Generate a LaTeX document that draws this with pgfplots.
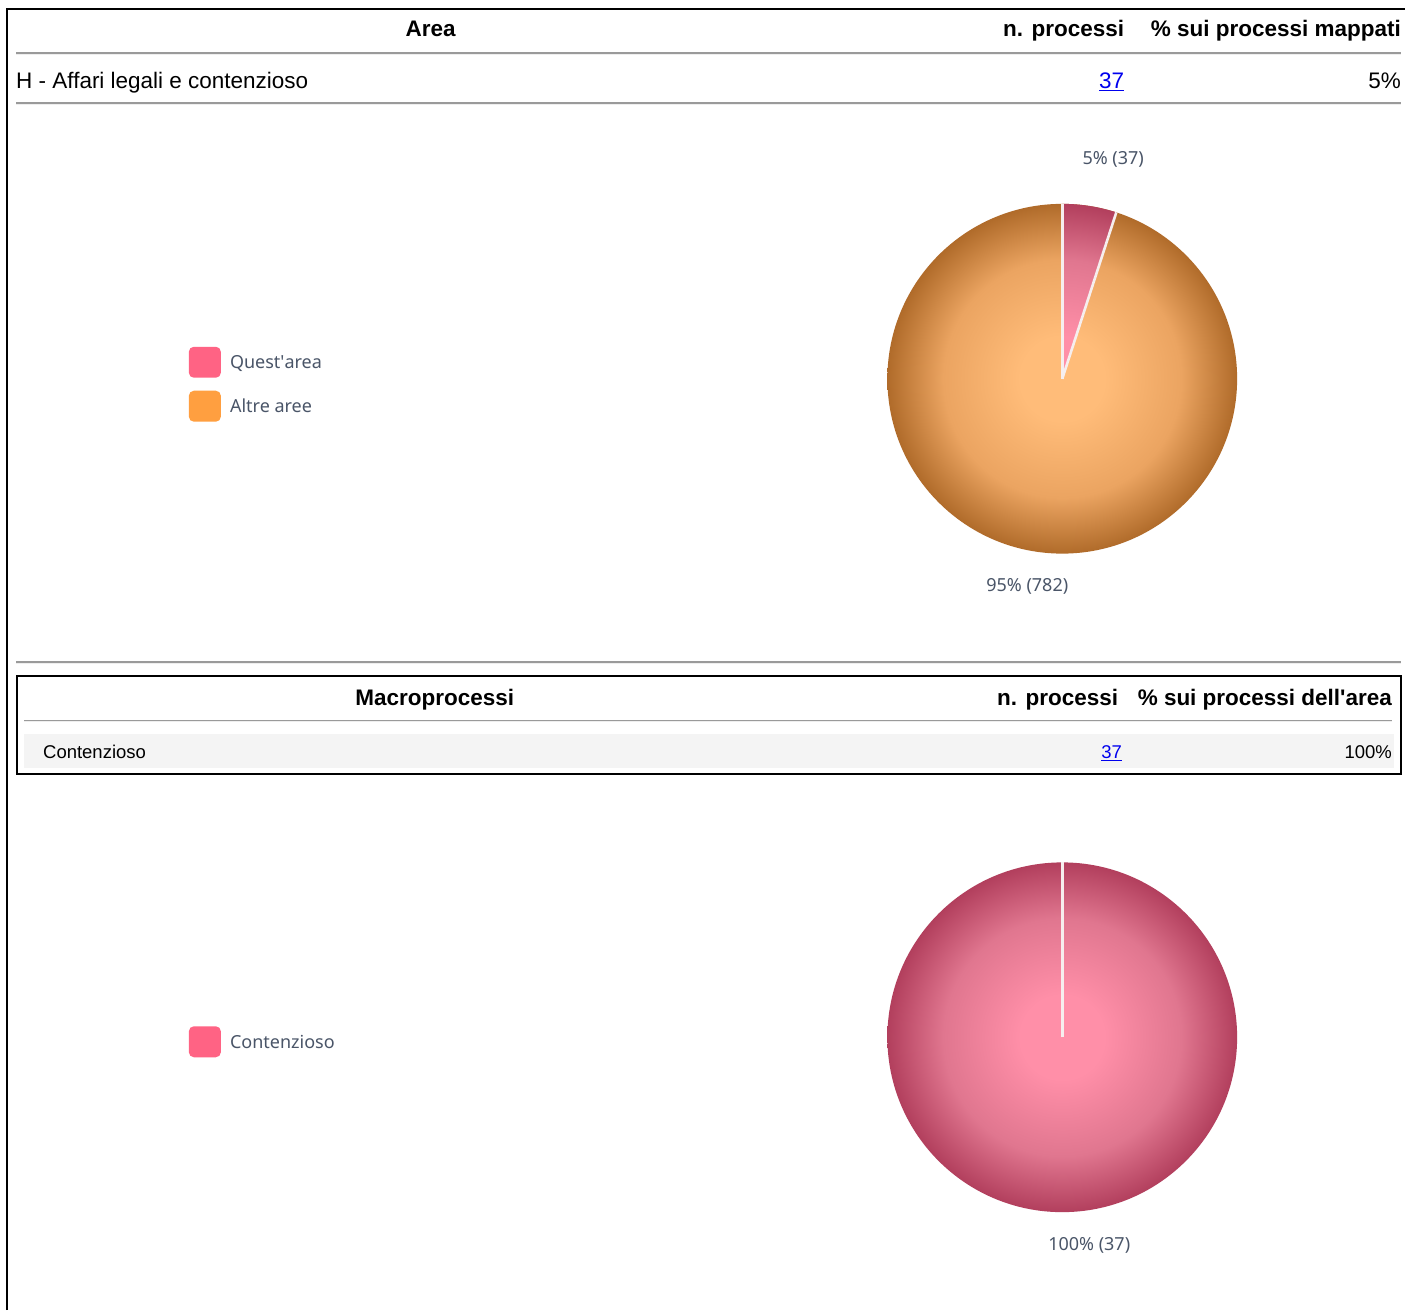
\documentclass[border=0pt]{standalone}
\usepackage{pgfplots}
\pgfplotsset{compat=1.18}
\usepackage{pgfplotstable}
\usepackage{fontspec}
\setmainfont{Liberation Sans}
\newfontfamily\chartfont{Noto Sans}

\definecolor{pinkL}{HTML}{FF6384}
\definecolor{orangeL}{HTML}{FF9F40}
\definecolor{chartgray}{HTML}{4A5568}
\definecolor{hrgray}{HTML}{9A9A9A}
\definecolor{hrlight}{HTML}{EEEEEE}
\definecolor{rowbg}{HTML}{F4F4F4}
\definecolor{linkblue}{HTML}{0000EE}
\definecolor{sep}{HTML}{F6EEEE}
\definecolor{oc}{HTML}{FFBC79}
\definecolor{om}{HTML}{EBA461}
\definecolor{oe}{HTML}{B06B2A}
\definecolor{pc}{HTML}{FF8FA8}
\definecolor{pm}{HTML}{E0768F}
\definecolor{pe}{HTML}{B23F5D}
\pgfdeclareradialshading{orangeradial}{\pgfpoint{0bp}{0bp}}{color(0bp)=(oc); color(6bp)=(oc); color(17bp)=(om); color(25bp)=(oe); color(50bp)=(oe)}
\pgfdeclareradialshading{pinkradial}{\pgfpoint{0bp}{0bp}}{color(0bp)=(pc); color(6bp)=(pc); color(17bp)=(pm); color(25bp)=(pe); color(50bp)=(pe)}

\pgfplotstableread{
slice value
Questarea 37
Altreaure 782
}\areatab
\pgfplotstableread{
slice value
Contenzioso 37
}\macrotab

\newcommand{\hdr}{\fontsize{22.5}{27}\selectfont\bfseries}
\newcommand{\rowA}{\fontsize{22.5}{27}\selectfont}
\newcommand{\rowB}{\fontsize{18.5}{22}\selectfont}
\newcommand{\chl}{\chartfont\fontsize{18}{21}\selectfont\color{chartgray}}

\begin{document}
\begin{tikzpicture}
\pgfplotstablegetelem{0}{value}\of\areatab \edef\vA{\pgfplotsretval}%
\pgfplotstablegetelem{1}{value}\of\areatab \edef\vB{\pgfplotsretval}%
\pgfplotstablegetelem{0}{value}\of\macrotab \edef\vC{\pgfplotsretval}%
\pgfmathsetmacro\fracA{\vA/(\vA+\vB)}%
\pgfmathtruncatemacro\pctA{round(100*\fracA)}%
\pgfmathtruncatemacro\pctB{round(100*(1-\fracA))}%
\pgfmathsetmacro\angA{3.6*\pctA}%
\begin{axis}[
  x=1pt, y=1pt, xmin=0, xmax=1406, ymin=0, ymax=1311,
  y dir=reverse, hide axis, clip=false, enlargelimits=false,
]
% background
\fill[white] (0,0) rectangle (1406,1311);
% outer border
\draw[black, line width=2pt] (7,1311) -- (7,9) -- (1406,9);

% ===== Table 1 =====
\node[anchor=base] at (431,37) {\hdr Area};
\node[anchor=base east, inner sep=0pt] at (1125,37) {\hdr n. processi};
\node[anchor=base east, inner sep=0pt] at (1402,37) {\hdr \% sui processi mappati};
\fill[hrgray] (16,52) rectangle (1402,54);
\fill[hrlight] (16,54) rectangle (1402,55);
\node[anchor=base west, inner sep=0pt] at (16,89) {\rowA H - Affari legali e contenzioso};
\node[anchor=base east, inner sep=0pt] at (1125,89) {\rowA\color{linkblue}\underline{\vA}};
\node[anchor=base east, inner sep=0pt] at (1402,89) {\rowA \pctA\%};
\fill[hrgray] (16,102) rectangle (1402,104);
\fill[hrlight] (16,104) rectangle (1402,105);

% ===== Pie 1 =====
\shade[shading=orangeradial] (1063,379) circle[radius=175pt];
\begin{scope}
\clip (1063,379) -- ++(90:176pt) arc[start angle=90, end angle=90-\angA, radius=176pt] -- cycle;
\shade[shading=pinkradial] (1063,379) circle[radius=175pt];
\end{scope}
\draw[sep, line width=2.6pt] (1063,379) -- ++(90:175pt);
\draw[sep, line width=2.6pt] (1063,379) -- ++(90-\angA:175pt);
\node[anchor=base, inner sep=0pt] at (1114,165) {\chl \pctA\% (\vA)};
\node[anchor=base, inner sep=0pt] at (1028,592) {\chl \pctB\% (\vB)};
% legend 1
\fill[pinkL, rounded corners=5pt] (189,347) rectangle (221,378);
\fill[orangeL, rounded corners=5pt] (189,391) rectangle (221,422);
\node[anchor=base west, inner sep=0pt] at (230,369) {\chl Quest\textquotesingle area};
\node[anchor=base west, inner sep=0pt] at (230,413) {\chl Altre aree};

\fill[hrgray] (16,661) rectangle (1402,663);
\fill[hrlight] (16,663) rectangle (1402,664);

% ===== Table 2 =====
\draw[black, line width=2pt] (17,676) rectangle (1402,775);
\node[anchor=base] at (435,706) {\hdr Macroprocessi};
\node[anchor=base east, inner sep=0pt] at (1119,706) {\hdr n. processi};
\node[anchor=base east, inner sep=0pt] at (1393,706) {\hdr \% sui processi dell\textquotesingle area};
\fill[hrgray] (24,720) rectangle (1393,722);
\fill[hrlight] (24,722) rectangle (1393,723);
\fill[rowbg] (24,735) rectangle (1395,769);
\node[anchor=base west, inner sep=0pt] at (43,759) {\rowB Contenzioso};
\node[anchor=base east, inner sep=0pt] at (1123,759) {\rowB\color{linkblue}\underline{\vC}};
\node[anchor=base east, inner sep=0pt] at (1393,759) {\rowB 100\%};

% ===== Pie 2 =====
\shade[shading=pinkradial] (1063,1038) circle[radius=175pt];
\draw[sep, line width=2.6pt] (1063,1038) -- ++(90:175pt);
\node[anchor=base, inner sep=0pt] at (1090,1251) {\chl 100\% (\vC)};
\fill[pinkL, rounded corners=5pt] (189,1027) rectangle (221,1058);
\node[anchor=base west, inner sep=0pt] at (230,1049) {\chl Contenzioso};
\end{axis}
\end{tikzpicture}
\end{document}
